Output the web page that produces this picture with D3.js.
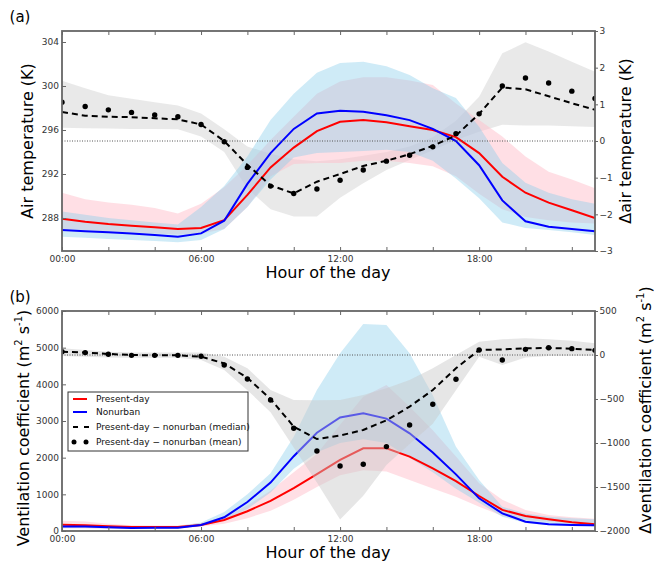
<!DOCTYPE html>
<html>
<head>
<meta charset="utf-8">
<title>Air temperature and ventilation coefficient</title>
<script src="https://cdn.jsdelivr.net/npm/d3@7"></script>
<style>
  body { margin: 0; background: #fff; }
  text { font-family: "DejaVu Sans", sans-serif; }
</style>
</head>
<body>
<script>
    // hours of the day
    const hours = [0, 1, 2, 3, 4, 5, 6, 7, 8, 9, 10, 11, 12, 13, 14, 15, 16, 17, 18, 19, 20, 21, 22, 23];

    // (a) air temperature (K)
    const tPresent = [287.94, 287.66, 287.45, 287.3, 287.15, 287.0, 287.1, 287.8, 290.1, 292.6, 294.4, 295.9, 296.75, 296.9, 296.7, 296.35, 296.0, 295.35, 293.9, 291.75, 290.3, 289.4, 288.7, 288.0];
    const tPresentLo = [287.0, 286.9, 286.8, 286.7, 286.6, 286.5, 286.6, 287.0, 289.0, 291.8, 292.9, 293.0, 293.0, 293.2, 293.2, 293.0, 292.7, 291.8, 290.2, 288.8, 288.1, 287.8, 287.6, 287.5];
    const tPresentHi = [290.3, 289.7, 289.4, 289.2, 288.9, 288.4, 289.3, 290.8, 292.8, 295.1, 297.2, 299.3, 300.4, 300.8, 300.8, 300.5, 300.1, 298.4, 296.9, 295.4, 293.6, 292.2, 291.5, 290.7];
    const tNonurban = [286.9, 286.8, 286.7, 286.6, 286.45, 286.3, 286.6, 287.75, 291.1, 293.9, 296.1, 297.5, 297.75, 297.65, 297.35, 296.9, 296.1, 295.0, 292.8, 289.6, 287.7, 287.2, 287.0, 286.8];
    const tNonurbanLo = [286.3, 286.2, 286.1, 286.0, 285.9, 285.8, 286.0, 287.0, 289.0, 291.5, 293.5, 293.9, 294.0, 294.1, 294.2, 294.0, 293.2, 291.6, 289.8, 287.6, 287.1, 286.9, 286.7, 286.45];
    const tNonurbanHi = [288.6, 288.3, 288.0, 287.8, 287.6, 287.4, 289.0, 290.9, 293.6, 296.9, 299.3, 301.2, 302.1, 302.2, 301.8, 301.0, 299.8, 298.9, 296.3, 293.0, 291.2, 290.3, 289.7, 289.3];
    const dtMedian = [0.79, 0.69, 0.66, 0.65, 0.62, 0.59, 0.45, 0.0, -0.65, -1.21, -1.43, -1.11, -0.9, -0.68, -0.54, -0.36, -0.13, 0.15, 0.74, 1.46, 1.41, 1.22, 1.03, 0.85];
    const dtMean = [1.06, 0.94, 0.85, 0.78, 0.71, 0.66, 0.45, -0.02, -0.72, -1.23, -1.43, -1.31, -1.07, -0.79, -0.55, -0.39, -0.16, 0.2, 0.74, 1.5, 1.72, 1.58, 1.36, 1.16];
    const dtLo = [0.36, 0.35, 0.34, 0.33, 0.33, 0.32, 0.12, -0.3, -1.3, -1.86, -2.06, -2.06, -1.55, -1.15, -0.79, -0.52, -0.25, 0.03, 0.25, 0.44, 0.42, 0.42, 0.4, 0.38];
    const dtHi = [1.64, 1.44, 1.25, 1.15, 1.06, 0.97, 0.75, 0.32, -0.15, -0.35, -0.5, -0.55, -0.5, -0.4, -0.3, -0.15, 0.1, 0.55, 1.21, 2.39, 2.69, 2.44, 2.16, 1.89];

    // (b) ventilation coefficient (m2 s-1)
    const vPresent = [170, 160, 130, 110, 110, 110, 165, 300, 540, 820, 1170, 1550, 1940, 2254, 2254, 2030, 1710, 1360, 955, 575, 410, 320, 240, 185];
    const vPresentLo = [70, 70, 60, 55, 55, 60, 120, 200, 350, 550, 850, 1200, 1520, 1660, 1620, 1390, 1160, 936, 664, 409, 300, 255, 227, 209];
    const vPresentHi = [282, 260, 200, 160, 150, 150, 220, 380, 700, 1100, 1600, 2100, 2900, 3660, 3980, 3390, 2750, 2030, 1300, 850, 573, 436, 373, 336];
    const vNonurban = [120, 120, 100, 85, 90, 90, 165, 375, 790, 1320, 2040, 2680, 3095, 3209, 3065, 2664, 2140, 1545, 891, 482, 255, 182, 164, 155];
    const vNonurbanLo = [80, 80, 70, 60, 60, 70, 130, 290, 600, 1050, 1700, 2150, 2400, 2500, 2400, 2000, 1600, 1150, 770, 390, 220, 160, 135, 120];
    const vNonurbanHi = [170, 160, 140, 120, 120, 130, 230, 520, 1000, 1574, 2573, 3845, 4846, 5645, 5620, 4846, 3700, 2300, 1390, 664, 480, 391, 345, 318];
    const dvMedian = [38, 27, 12, 0, -4, -4, -19, -95, -260, -500, -814, -955, -915, -852, -742, -587, -398, -151, 57, 64, 76, 80, 72, 57];
    const dvMean = [38, 27, 8, -4, -4, -4, -15, -114, -273, -511, -833, -1091, -1261, -1242, -1041, -795, -560, -276, 57, -57, 64, 83, 72, 53];
    const dvLo = [-11, -19, -27, -30, -30, -30, -57, -170, -400, -650, -1050, -1450, -1870, -1600, -1250, -1010, -780, -400, -19, -114, -27, -11, -11, -11];
    const dvHi = [76, 57, 38, 27, 27, 27, 27, -19, -151, -398, -511, -515, -511, -454, -379, -284, -151, 0, 151, 178, 189, 178, 163, 133];

    // axis ticks
    const hourTicks = [0, 2, 4, 6, 8, 10, 12, 14, 16, 18, 20, 22];
    const hourLabels = ["00:00", "", "", "06:00", "", "", "12:00", "", "", "18:00", "", ""];
    const tTicks = [288, 292, 296, 300, 304];
    const dtTicks = [-3, -2, -1, 0, 1, 2, 3];
    const vTicks = [0, 1000, 2000, 3000, 4000, 5000, 6000];
    const dvTicks = [-2000, -1500, -1000, -500, 0, 500];
    const legendLabels = ["Present-day", "Nonurban", "Present-day \u2212 nonurban (median)", "Present-day \u2212 nonurban (mean)"];

    var width = 654, height = 562;
    var svg = d3.select("body").append("svg")
        .attr("width", width)
        .attr("height", height);

    var x = d3.scaleLinear().domain([0, 23]).range([62, 595]);

    var ya = d3.scaleLinear().domain([285, 305]).range([251, 31]);
    var yaR = d3.scaleLinear().domain([-3, 3]).range([251, 31]);
    var yb = d3.scaleLinear().domain([0, 6000]).range([531, 311]);
    var ybR = d3.scaleLinear().domain([-2000, 500]).range([531, 311]);

    var PINK = "#ffc0cb", SKY = "#87ceeb", GREY = "#c8c8c8";
    var fmt = d3.format("d");

    function band(g, lo, hi, y, color, op) {
        g.append("path").datum(hours)
            .attr("fill", color).attr("fill-opacity", op)
            .attr("d", d3.area()
                .x(h => x(h))
                .y0((h, i) => y(lo[i]))
                .y1((h, i) => y(hi[i])));
    }
    function line(g, vals, y, color, dash) {
        g.append("path").datum(hours)
            .attr("fill", "none").attr("stroke", color).attr("stroke-width", 2)
            .attr("stroke-dasharray", dash || null)
            .attr("d", d3.line().x(h => x(h)).y((h, i) => y(vals[i])));
    }
    function dots(g, vals, y) {
        g.selectAll(null).data(hours).enter().append("circle")
            .attr("cx", h => x(h)).attr("cy", (h, i) => y(vals[i]))
            .attr("r", 2.7).attr("fill", "black");
    }

    function frame(y, yR, ticksL, ticksR, top, id) {
        var bottom = y.range()[0];
        var g = svg.append("g");
        // clip for plot area
        svg.append("clipPath").attr("id", id)
            .append("rect").attr("x", 62).attr("y", top).attr("width", 533).attr("height", bottom - top);

        g.append("g").attr("transform", "translate(0," + bottom + ")")
            .call(d3.axisBottom(x).tickValues(hourTicks).tickSize(-4).tickPadding(5)
                .tickFormat((d, i) => hourLabels[i]));
        g.append("g").attr("transform", "translate(0," + top + ")")
            .call(d3.axisTop(x).tickValues(hourTicks).tickSize(-4).tickFormat(""));
        g.append("g").attr("transform", "translate(62,0)")
            .call(d3.axisLeft(y).tickValues(ticksL).tickSize(-4).tickPadding(3).tickFormat(fmt));
        g.append("g").attr("transform", "translate(595,0)")
            .call(d3.axisRight(yR).tickValues(ticksR).tickSize(3).tickPadding(1.5).tickFormat(fmt));
        g.selectAll(".domain").remove();
        g.selectAll(".tick line").attr("stroke", "#666");
        g.selectAll(".tick text").attr("fill", "#333").attr("font-size", 9)
            .attr("font-family", "DejaVu Sans, sans-serif");
        g.append("rect").attr("x", 62).attr("y", top).attr("width", 533).attr("height", bottom - top)
            .attr("fill", "none").attr("stroke", "#666").attr("stroke-width", 1.8);
    }

    function zeroLine(g, yR) {
        g.append("line").attr("x1", 62).attr("x2", 595)
            .attr("y1", yR(0)).attr("y2", yR(0))
            .attr("stroke", "#555").attr("stroke-width", 1).attr("stroke-dasharray", "1,1.5");
    }

    // ---------- panel (a) ----------
    var ga = svg.append("g").attr("clip-path", "url(#clipA)");
    band(ga, dtLo, dtHi, yaR, GREY, 0.4);
    band(ga, tPresentLo, tPresentHi, ya, PINK, 0.5);
    band(ga, tNonurbanLo, tNonurbanHi, ya, SKY, 0.4);
    line(ga, tPresent, ya, "#ff0000");
    line(ga, tNonurban, ya, "#0000ff");
    zeroLine(ga, yaR);
    line(ga, dtMedian, yaR, "black", "6,4");
    dots(ga, dtMean, yaR);
    frame(ya, yaR, tTicks, dtTicks, 31, "clipA");

    // ---------- panel (b) ----------
    var gb = svg.append("g").attr("clip-path", "url(#clipB)");
    band(gb, vPresentLo, vPresentHi, yb, PINK, 0.5);
    band(gb, vNonurbanLo, vNonurbanHi, yb, SKY, 0.4);
    line(gb, vPresent, yb, "#ff0000");
    line(gb, vNonurban, yb, "#0000ff");
    band(gb, dvLo, dvHi, ybR, GREY, 0.45);
    zeroLine(gb, ybR);
    line(gb, dvMedian, ybR, "black", "6,4");
    dots(gb, dvMean, ybR);
    frame(yb, ybR, vTicks, dvTicks, 311, "clipB");

    // ---------- labels ----------
    function label(txt, px, py, rot, size) {
        var t = svg.append("text").attr("font-size", size || 16).attr("fill", "black")
            .attr("text-anchor", "middle")
            .attr("transform", "translate(" + px + "," + py + ")" + (rot ? " rotate(-90)" : ""));
        return t.text(txt);
    }
    label("(a)", 20, 22, false, 15);
    label("(b)", 20, 302, false, 15);
    label("Hour of the day", 328, 278);
    label("Hour of the day", 328, 558);
    label("Air temperature (K)", 33, 141, true);
    label("\u0394air temperature (K)", 631, 141, true);

    var vl = svg.append("text").attr("font-size", 16).attr("text-anchor", "middle")
        .attr("transform", "translate(29,428) rotate(-90)");
    vl.append("tspan").text("Ventilation coefficient (m");
    vl.append("tspan").attr("font-size", 10).attr("dy", -7).text("2");
    vl.append("tspan").attr("dy", 7).text(" s");
    vl.append("tspan").attr("font-size", 10).attr("dy", -7).text("-1");
    vl.append("tspan").attr("dy", 7).text(")");

    var vr = svg.append("text").attr("font-size", 16).attr("text-anchor", "middle")
        .attr("transform", "translate(651,410) rotate(-90)");
    vr.append("tspan").text("\u0394ventilation coefficient (m");
    vr.append("tspan").attr("font-size", 10).attr("dy", -7).text("2");
    vr.append("tspan").attr("dy", 7).text(" s");
    vr.append("tspan").attr("font-size", 10).attr("dy", -7).text("-1");
    vr.append("tspan").attr("dy", 7).text(")");

    // ---------- legend ----------
    var lg = svg.append("g").attr("transform", "translate(68,392)");
    lg.append("rect").attr("width", 180).attr("height", 59)
        .attr("fill", "white").attr("stroke", "#333").attr("stroke-width", 1);
    var rows = [7, 20, 35, 50];
    lg.append("line").attr("x1", 5).attr("x2", 19).attr("y1", rows[0]).attr("y2", rows[0]).attr("stroke", "#ff0000").attr("stroke-width", 2);
    lg.append("line").attr("x1", 5).attr("x2", 19).attr("y1", rows[1]).attr("y2", rows[1]).attr("stroke", "#0000ff").attr("stroke-width", 2);
    lg.append("line").attr("x1", 5).attr("x2", 21).attr("y1", rows[2]).attr("y2", rows[2]).attr("stroke", "black").attr("stroke-width", 2).attr("stroke-dasharray", "5,6");
    lg.selectAll(null).data([6, 18]).enter().append("circle")
        .attr("cx", d => d).attr("cy", rows[3]).attr("r", 2.5).attr("fill", "black");
    lg.selectAll(null).data(legendLabels).enter().append("text")
        .attr("x", 28).attr("y", (d, i) => rows[i]).attr("dy", "0.35em")
        .attr("font-size", 9).attr("fill", "#111").text(d => d);
</script>
</body>
</html>
